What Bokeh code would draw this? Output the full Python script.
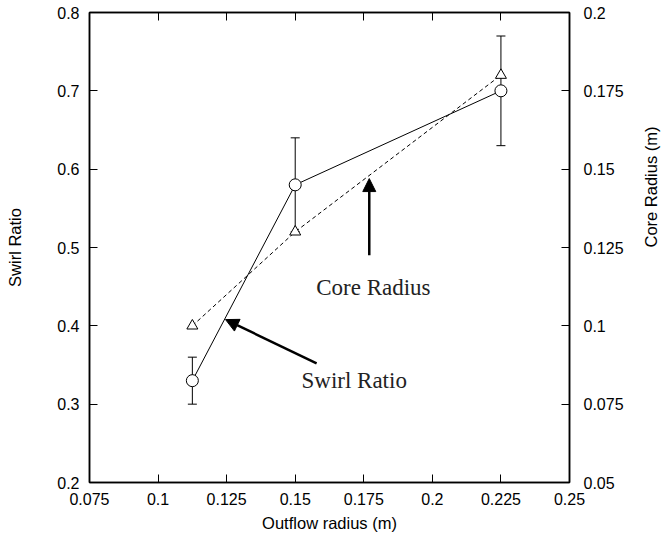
import math
from bokeh.plotting import figure
from bokeh.models import (LinearAxis, Range1d, FixedTicker, Whisker, TeeHead, Arrow,
                          NormalHead, Label, ColumnDataSource, CustomJSTickFormatter)
from bokeh.embed import file_html
from bokeh.resources import INLINE

# ---- data ----
outflow_radius = [0.1125, 0.15, 0.225]
swirl_ratio = [0.33, 0.58, 0.70]
swirl_err = [0.03, 0.06, 0.07]
core_radius = [0.10, 0.13, 0.18]

x_ticks = [0.075, 0.1, 0.125, 0.15, 0.175, 0.2, 0.225, 0.25]
x_tick_labels = ["0.075", "0.1", "0.125", "0.15", "0.175", "0.2", "0.225", "0.25"]
y_ticks = [0.2, 0.3, 0.4, 0.5, 0.6, 0.7, 0.8]
y_tick_labels = ["0.2", "0.3", "0.4", "0.5", "0.6", "0.7", "0.8"]
y2_ticks = [0.05, 0.075, 0.1, 0.125, 0.15, 0.175, 0.2]
y2_tick_labels = ["0.05", "0.075", "0.1", "0.125", "0.15", "0.175", "0.2"]

FONT = "Liberation Sans"
SERIF = "Liberation Serif"

p = figure(width=671, height=539, output_backend="svg", toolbar_location=None,
           x_range=Range1d(0.075, 0.25), y_range=Range1d(0.2, 0.8),
           min_border_left=89, min_border_right=102, min_border_top=12, min_border_bottom=57)
p.extra_y_ranges = {"core": Range1d(0.05, 0.2)}
p.xgrid.visible = False
p.ygrid.visible = False
p.outline_line_color = "black"
p.outline_line_width = 1.5


def style_axis(ax, ticks, labels):
    ax.ticker = FixedTicker(ticks=ticks)
    if labels is not None:
        ax.major_label_overrides = {t: l for t, l in zip(ticks, labels)}
    ax.major_tick_in = 8
    ax.major_tick_out = 0
    ax.minor_tick_in = 0
    ax.minor_tick_out = 0
    ax.major_tick_line_color = "black"
    ax.major_tick_line_width = 1
    ax.axis_line_color = "black"
    ax.axis_line_width = 1.5
    ax.major_label_text_font = FONT
    ax.major_label_text_font_size = "16px"
    ax.major_label_text_color = "black"
    ax.axis_label_text_font = FONT
    ax.axis_label_text_font_size = "16.5px"
    ax.axis_label_text_font_style = "normal"
    ax.axis_label_text_color = "black"
    ax.major_label_standoff = 10


xa = p.xaxis[0]
style_axis(xa, x_ticks, x_tick_labels)
xa.axis_label = "Outflow radius (m)"
xa.axis_label_standoff = 6

ya = p.yaxis[0]
style_axis(ya, y_ticks, y_tick_labels)
ya.axis_label = "Swirl Ratio"
ya.axis_label_standoff = 30

top = LinearAxis()
style_axis(top, x_ticks, None)
top.formatter = CustomJSTickFormatter(code="return ''")
top.major_label_standoff = 0
p.add_layout(top, "above")

right = LinearAxis(y_range_name="core")
style_axis(right, y2_ticks, y2_tick_labels)
right.major_label_standoff = 14
right.axis_label = "Core Radius (m)"
right.axis_label_standoff = 24
right.axis_label_orientation = math.pi / 2
p.add_layout(right, "right")

# ---- swirl ratio series ----
src = ColumnDataSource(dict(x=outflow_radius, y=swirl_ratio,
                            lo=[v - e for v, e in zip(swirl_ratio, swirl_err)],
                            hi=[v + e for v, e in zip(swirl_ratio, swirl_err)]))
p.line("x", "y", source=src, line_color="black", line_width=1)
p.add_layout(Whisker(source=src, base="x", lower="lo", upper="hi", line_color="black",
                     line_width=1,
                     upper_head=TeeHead(size=9, line_color="black", line_width=1),
                     lower_head=TeeHead(size=9, line_color="black", line_width=1)))
p.scatter("x", "y", source=src, marker="circle", size=12, fill_color="white",
          line_color="black", line_width=1)

# ---- core radius series ----
csrc = ColumnDataSource(dict(x=outflow_radius, y=core_radius))
p.line("x", "y", source=csrc, y_range_name="core", line_color="black", line_width=1,
       line_dash="4 3")
p.scatter("x", "y", source=csrc, y_range_name="core", marker="triangle", size=11,
          fill_color="white", line_color="black", line_width=1)

# ---- annotations ----
p.add_layout(Arrow(end=NormalHead(size=13, fill_color="black", line_color="black"),
                   x_start=0.177, y_start=0.49, x_end=0.177, y_end=0.588,
                   line_color="black", line_width=2.5))
p.add_layout(Arrow(end=NormalHead(size=13, fill_color="black", line_color="black"),
                   x_start=0.1578, y_start=0.352, x_end=0.1246, y_end=0.408,
                   line_color="black", line_width=2.5))
p.add_layout(Label(x=0.1785, y=0.449, text="Core Radius", text_font=SERIF,
                   text_font_size="23px", text_align="center", text_baseline="middle",
                   text_color="#222222"))
p.add_layout(Label(x=0.1715, y=0.330, text="Swirl Ratio", text_font=SERIF,
                   text_font_size="23px", text_align="center", text_baseline="middle",
                   text_color="#222222"))

open("out.html", "w").write(file_html(p, INLINE))
